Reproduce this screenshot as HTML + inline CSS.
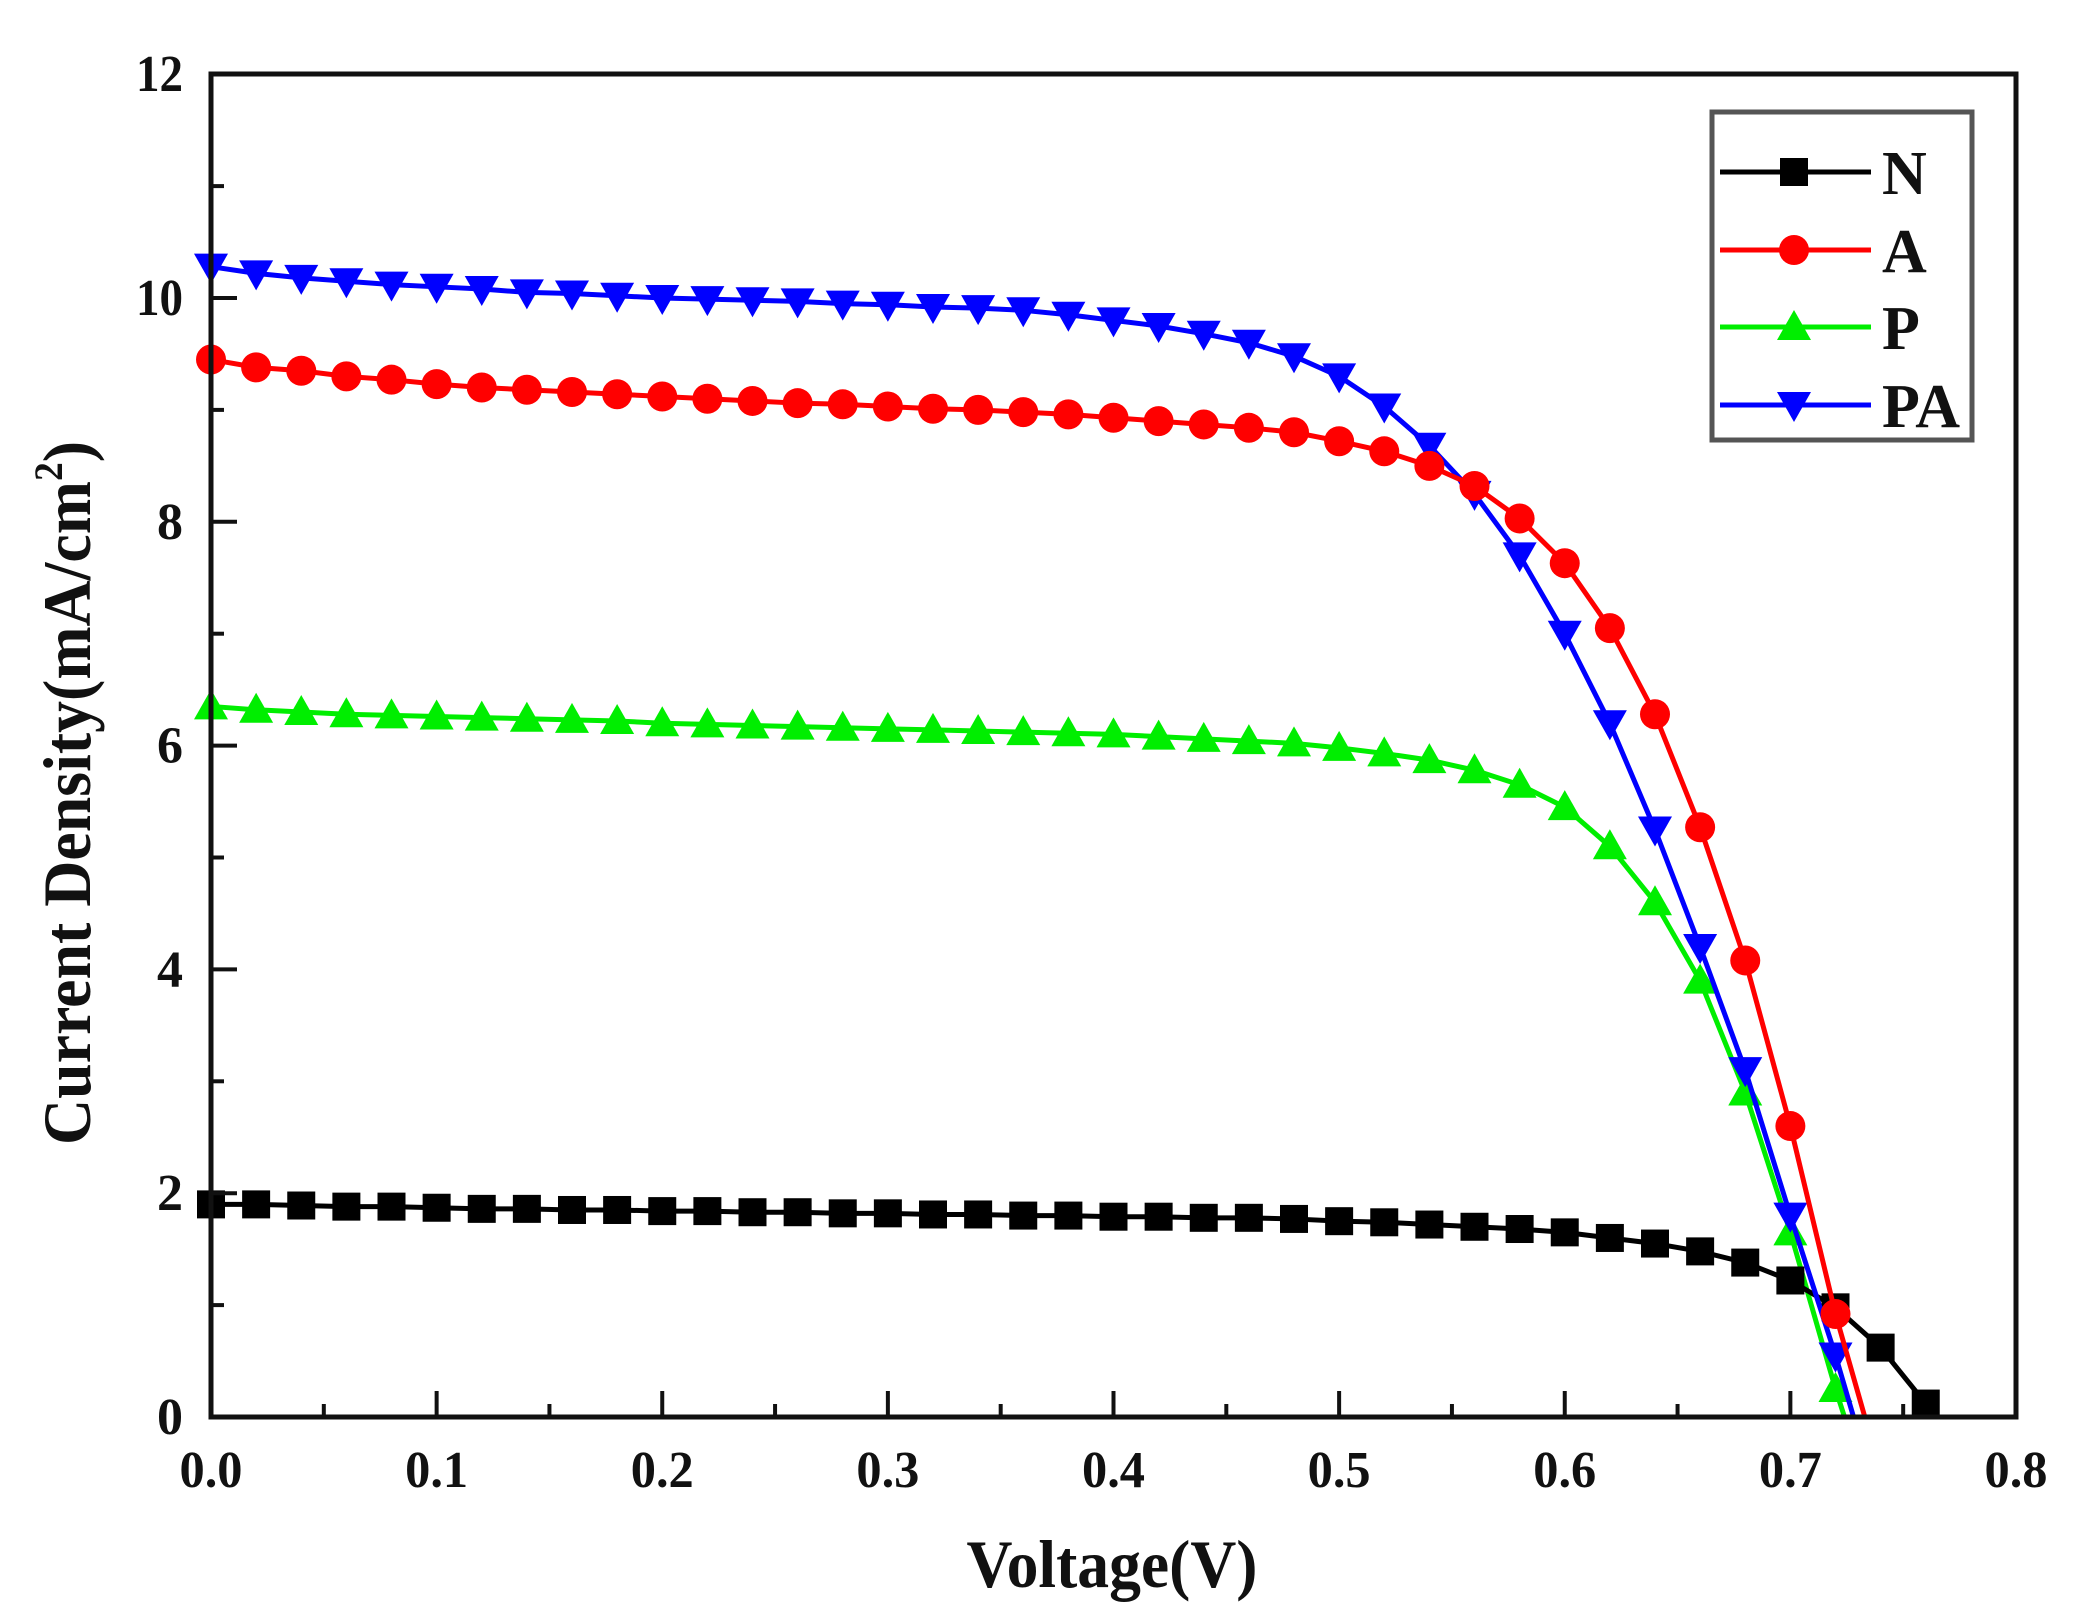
<!DOCTYPE html>
<html><head><meta charset="utf-8">
<style>html,body{margin:0;padding:0;background:#fff}svg{display:block}</style></head>
<body>
<svg id="s" width="2088" height="1622" viewBox="0 0 2088 1622" xmlns="http://www.w3.org/2000/svg" font-family="'Liberation Serif', serif" font-weight="bold">
<rect width="2088" height="1622" fill="#fff"/>
<g id="data"></g>
<rect x="211" y="74" width="1805" height="1343" fill="none" stroke="#111" stroke-width="5"/>
<g id="ticks" stroke="#111" stroke-width="4"></g>
<g id="labels" font-size="52" fill="#111"></g>
<text x="1112" y="1587" font-size="68" text-anchor="middle" textLength="291" lengthAdjust="spacingAndGlyphs" fill="#111">Voltage(V)</text>
<text transform="translate(90,793) rotate(-90)" font-size="68" text-anchor="middle" textLength="704" lengthAdjust="spacingAndGlyphs" fill="#111">Current Density(mA/cm<tspan font-size="40" dy="-28">2</tspan><tspan dy="28">)</tspan></text>
<rect x="1712" y="112" width="260" height="328" fill="#fff" stroke="#555" stroke-width="5"/>
<g id="legend"></g>
</svg>
<script>
const NS="http://www.w3.org/2000/svg";
const X0=211,XS=2256.25,Y0=1417,YS=111.9;
const px=v=>X0+v*XS, py=v=>Y0-v*YS;
function el(t,a,p){const e=document.createElementNS(NS,t);for(const k in a)e.setAttribute(k,a[k]);p.appendChild(e);return e;}
const T=document.getElementById('ticks'),L=document.getElementById('labels');
for(let i=0;i<=16;i++){const x=X0+i*XS*0.05;const len=i%2?13:26;el('line',{x1:x,y1:Y0,x2:x,y2:Y0-len},T);}
for(let i=0;i<=8;i++){const t=el('text',{x:px(i/10),y:1487,'text-anchor':'middle',textLength:63,lengthAdjust:'spacingAndGlyphs'},L);t.textContent=(i/10).toFixed(1);}
for(let i=0;i<=12;i++){const y=py(i);const len=i%2?13:26;el('line',{x1:X0,y1:y,x2:X0+len,y2:y},T);}
for(let i=0;i<=12;i+=2){const t=el('text',{x:183,y:py(i)+17,'text-anchor':'end'},L);if(i>=10){t.setAttribute('textLength',47);t.setAttribute('lengthAdjust','spacingAndGlyphs');}t.textContent=i;}
function flat(a,b,n){const r=[];for(let i=0;i<n;i++)r.push(a+(b-a)*i/(n-1));return r;}
const N=[1.9,1.9,1.89,1.88,1.88,1.87,1.86,1.86,1.85,1.85,1.84,1.84,1.83,1.83,1.82,1.82,1.81,1.81,1.8,1.8,1.79,1.79,1.78,1.78,1.77,1.75,1.74,1.72,1.7,1.68,1.65,1.6,1.55,1.48,1.38,1.22,0.98,0.62,0.12];
const A=[9.45,9.38,9.35,9.3,9.27,9.23,9.2,9.18,9.16,9.14,9.12,9.1,9.08,9.06,9.05,9.03,9.01,9.0,8.98,8.96,8.93,8.9,8.87,8.84,8.8,8.72,8.63,8.5,8.32,8.03,7.63,7.05,6.28,5.27,4.08,2.6,0.92];
const PA=[10.28,10.22,10.18,10.15,10.12,10.1,10.08,10.05,10.04,10.02,10.0,9.99,9.98,9.97,9.95,9.94,9.92,9.91,9.89,9.85,9.8,9.75,9.68,9.6,9.48,9.3,9.03,8.68,8.25,7.7,7.0,6.2,5.25,4.2,3.1,1.8,0.55];
const P=[6.35,6.32,6.3,6.28,6.27,6.26,6.25,6.24,6.23,6.22,6.2,6.19,6.18,6.17,6.16,6.15,6.14,6.13,6.12,6.11,6.1,6.08,6.06,6.04,6.02,5.98,5.93,5.87,5.78,5.65,5.45,5.1,4.6,3.9,2.9,1.65,0.25];
const D=document.getElementById('data');
function marker(type,x,y,c,g){
 if(type==='s')el('rect',{x:x-14,y:y-14,width:28,height:28,fill:c},g);
 else if(type==='c')el('circle',{cx:x,cy:y,r:15,fill:c},g);
 else if(type==='u')el('polygon',{points:`${x},${y-17} ${x-17},${y+13} ${x+17},${y+13}`,fill:c},g);
 else el('polygon',{points:`${x},${y+17} ${x-17},${y-13} ${x+17},${y-13}`,fill:c},g);
}
function series(arr,end,c,type){
 const pts=arr.map((v,i)=>[px(i*0.02),py(v)]);
 const line=pts.slice(); if(end!==null)line.push([px(end),py(0)]);
 el('polyline',{points:line.map(p=>p.join(',')).join(' '),fill:'none',stroke:c,'stroke-width':5},D);
 pts.forEach(p=>marker(type,p[0],p[1],c,D));
}
series(P,0.724,'#00ee00','u');
series(N,null,'#000','s');
series(PA,0.728,'#0000ff','d');
series(A,0.733,'#ff0000','c');
const G=document.getElementById('legend');
[['N','#000','s',172],['A','#ff0000','c',250],['P','#00ee00','u',327],['PA','#0000ff','d',405]].forEach(r=>{
 el('line',{x1:1720,y1:r[3],x2:1871,y2:r[3],stroke:r[1],'stroke-width':5},G);
 marker(r[2],1794,r[3],r[1],G);
 const t=el('text',{x:1882,y:r[3]+22,'font-size':62,fill:'#111'},G);t.textContent=r[0];
});
</script>
</body></html>
